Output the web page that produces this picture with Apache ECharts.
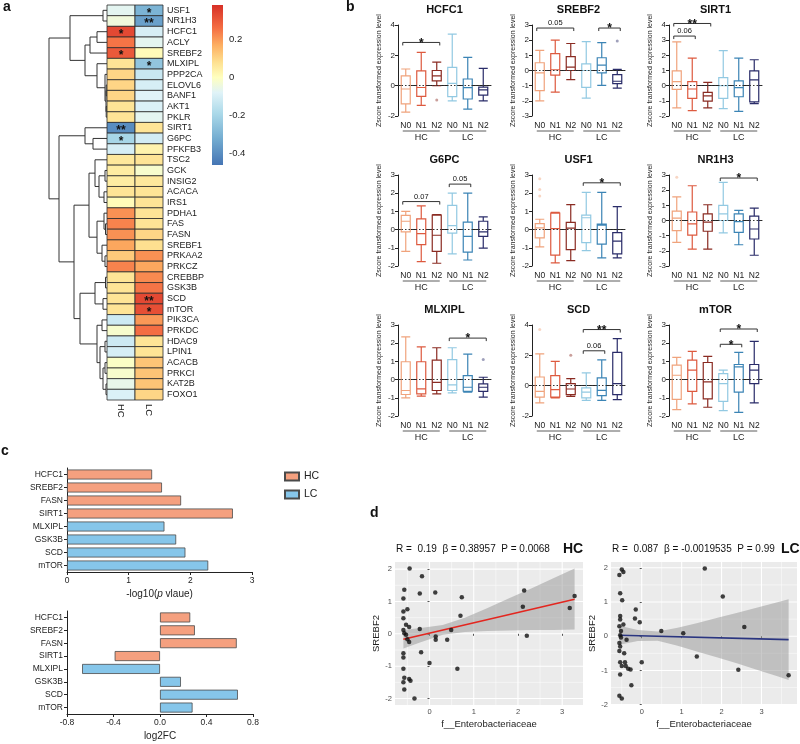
<!DOCTYPE html>
<html><head><meta charset="utf-8">
<script src="https://cdn.jsdelivr.net/npm/echarts@6/dist/echarts.min.js"></script>
<style>html,body{margin:0;padding:0;background:#fff}#c{width:800px;height:744px}</style>
</head><body><div id="c"></div>
<script>
const FONT = 'Arial, "Liberation Sans", sans-serif';

// ---------- Panel a : heatmap ----------
const genes = ['USF1','NR1H3','HCFC1','ACLY','SREBF2','MLXIPL','PPP2CA','ELOVL6','BANF1','AKT1','PKLR','SIRT1','G6PC','PFKFB3','TSC2','GCK','INSIG2','ACACA','IRS1','PDHA1','FAS','FASN','SREBF1','PRKAA2','PRKCZ','CREBBP','GSK3B','SCD','mTOR','PIK3CA','PRKDC','HDAC9','LPIN1','ACACB','PRKCI','KAT2B','FOXO1'];
const heatCols = ['HC','LC'];
const hcCorr = [-0.07,-0.04,0.33,0.25,0.30,0.07,0.10,0.10,0.10,0.07,0.07,-0.40,-0.20,-0.10,0.06,0.05,0.05,0.07,0.01,0.21,0.23,0.21,0.18,0.12,0.23,0.07,0.07,0.07,0.07,-0.12,-0.02,-0.12,-0.10,-0.01,-0.02,-0.06,-0.09];
const lcCorr = [-0.30,-0.35,-0.10,-0.07,0.01,-0.25,-0.13,-0.10,-0.08,-0.09,-0.07,0.07,-0.11,0.03,0.07,-0.02,0.06,0.07,0.07,0.07,0.07,0.10,0.08,0.21,0.18,0.22,0.25,0.33,0.32,0.20,0.26,0.07,0.07,0.13,0.13,0.13,0.10];
const hcStarGenes = ['HCFC1','SREBF2','SIRT1','G6PC'];
const hcStarMarks = ['*','*','**','*'];
const lcStarGenes = ['USF1','NR1H3','MLXIPL','SCD','mTOR'];
const lcStarMarks = ['*','**','*','**','*'];
const colorbarRange = [-0.46, 0.38];
const colorbarTicks = [0.2, 0, -0.2, -0.4];
// dendrogram: [height, left, right], leaves = row index
const dendroTree = [58,
  [37, [4,0,1],
       [22, [17,[10,2,3],4], [10, 5, [2, 6, [1,[0.8,7,8],[0.8,9,10]]]]]],
  [48, [22, 11, [14,12,13]],
       [33, [18, [12, 14, [8,[2,15,16],[3,17,18]]], [10,[3,19,[1.5,20,21]],[5,22,[2,23,24]]]],
            [27, [12,[1.5,25,26],[4,27,28]], [10,[5,29,30],[7,[2,31,32],[4,[2,33,34],[1,35,36]]]]]]]];

// ---------- Panel b : boxplots [min, Q1, median, Q3, max] ----------
const boxCats = ['N0','N1','N2','N0','N1','N2'];
const groupNames = ['HC','LC'];
const hcfc1Box = [[-1.75,-1.2,-0.22,0.65,1.1],[-1.3,-0.7,-0.12,0.97,2.2],[0.0,0.32,0.65,1.0,1.55],[-1.0,-0.72,0.15,1.2,3.4],[-1.55,-0.88,-0.13,0.44,1.87],[-1.0,-0.62,-0.28,-0.1,1.14]];
const hcfc1Out = [[2,-0.95]];
const hcfc1Sig = [[0,2,2.85]]; const hcfc1SigTxt = ['*'];
const srebf2Box = [[-2.0,-1.33,-0.16,0.51,1.33],[-1.42,-0.31,0.05,1.11,2.0],[-0.6,0.0,0.22,0.91,1.78],[-1.82,-1.11,0.0,0.44,1.91],[-0.98,-0.16,0.36,0.84,1.84],[-1.16,-0.87,-0.71,-0.27,0.07]];
const srebf2Out = [[5,1.95]];
const srebf2Sig = [[0,2,2.8],[4,5,2.8]]; const srebf2SigTxt = ['0.05','*'];
const sirt1Box = [[-1.47,-0.24,0.27,0.98,2.89],[-1.64,-0.84,-0.22,0.27,1.82],[-1.47,-1.02,-0.67,-0.44,0.22],[-1.51,-0.84,0.0,0.53,2.31],[-1.69,-0.73,-0.13,0.31,1.82],[-1.18,-1.07,0.38,0.98,1.71]];
const sirt1Out = [];
const sirt1Sig = [[0,2,4.1],[0,1,3.27]]; const sirt1SigTxt = ['**','0.06'];
const g6pcBox = [[-1.2,-0.13,0.46,0.78,1.0],[-1.76,-0.83,-0.22,0.59,1.3],[-1.85,-1.2,-0.31,0.8,0.83],[-1.33,-0.19,0.22,1.33,2.0],[-1.67,-1.24,-0.37,0.41,2.0],[-1.02,-0.37,-0.13,0.46,0.7]];
const g6pcOut = [];
const g6pcSig = [[0,2,1.54],[3,4,2.5]]; const g6pcSigTxt = ['0.07','0.05'];
const usf1Box = [[-0.95,-0.45,0.1,0.33,0.57],[-1.83,-1.4,0.05,0.9,0.95],[-1.7,-1.1,0.08,0.4,1.37],[-1.15,-0.72,0.65,0.8,2.05],[-1.55,-0.8,0.25,0.3,2.05],[-1.55,-1.33,-0.63,-0.17,1.26]];
const usf1Out = [[0,2.8],[0,2.2],[0,1.85]];
const usf1Sig = [[3,5,2.57]]; const usf1SigTxt = ['*'];
const nr1h3Box = [[-1.44,-0.67,0.16,0.62,1.56],[-1.89,-0.96,-0.22,0.56,2.29],[-1.89,-0.71,-0.11,0.44,1.04],[-0.82,0.0,0.44,1.0,2.51],[-1.6,-0.78,-0.07,0.44,0.67],[-2.29,-1.22,-0.56,0.29,0.82]];
const nr1h3Out = [[0,2.85]];
const nr1h3Sig = [[3,5,2.8]]; const nr1h3SigTxt = ['*'];
const mlxiplBox = [[-1.0,-0.82,-0.6,0.98,2.35],[-0.91,-0.78,-0.51,0.98,1.8],[-0.78,-0.6,-0.15,1.07,1.75],[-0.73,-0.6,-0.29,1.1,1.75],[-0.69,-0.64,-0.42,0.22,1.4],[-0.96,-0.65,-0.42,-0.24,0.13]];
const mlxiplOut = [[5,1.1]];
const mlxiplSig = [[3,5,2.28]]; const mlxiplSigTxt = ['*'];
const scdBox = [[-1.14,-0.75,-0.37,0.57,2.1],[-0.81,-0.75,-0.26,0.66,1.6],[-0.7,-0.59,-0.22,0.13,0.46],[-0.97,-0.81,-0.42,-0.15,0.84],[-0.97,-0.66,-0.31,0.51,1.7],[-0.92,-0.59,0.13,2.2,3.1]];
const scdOut = [[0,3.7],[2,2.0]];
const scdSig = [[3,5,3.7],[3,4,2.3]]; const scdSigTxt = ['**','0.06'];
const mtorBox = [[-1.65,-1.09,0.24,0.8,1.22],[-1.33,-0.65,0.52,1.07,1.55],[-1.52,-1.06,-0.13,0.94,1.28],[-1.7,-1.2,-0.22,0.33,0.52],[-1.8,-0.69,0.7,0.83,1.5],[-1.28,-0.22,0.52,0.83,2.1]];
const mtorOut = [];
const mtorSig = [[3,5,2.78],[3,4,1.94]]; const mtorSigTxt = ['*','*'];

// ---------- Panel c ----------
const cGenes = ['HCFC1','SREBF2','FASN','SIRT1','MLXIPL','GSK3B','SCD','mTOR'];
const cGroup = ['HC','HC','HC','HC','LC','LC','LC','LC'];
const negLog10P = [1.38,1.54,1.85,2.69,1.58,1.77,1.92,2.29];
const log2FC = [0.26,0.30,0.66,-0.39,-0.67,0.18,0.67,0.28];

// ---------- Panel d ----------
const hcX = [-0.45,-0.17,-0.57,-0.22,0.13,-0.59,0.73,2.14,2.11,3.28,3.17,-0.59,-0.50,-0.59,0.70,-0.53,-0.46,-0.22,-0.59,-0.57,-0.53,0.49,0.14,0.14,0.40,2.20,-0.50,-0.46,-0.59,-0.19,-0.59,0.00,0.63,-0.59,-0.57,-0.46,-0.43,-0.59,-0.57,-0.34];
const hcY = [2.02,1.78,1.36,1.25,1.28,1.09,1.13,1.34,0.84,1.17,0.80,0.69,0.76,0.48,0.56,0.28,0.21,0.15,0.12,0.02,-0.03,0.12,-0.08,-0.18,-0.18,-0.06,-0.17,-0.25,-0.60,-0.57,-0.73,-0.90,-1.08,-1.08,-1.36,-1.40,-1.45,-1.50,-1.72,-2.00];
const lcX = [-0.50,-0.46,-0.56,1.58,2.03,-0.54,-0.49,-0.15,-0.17,-0.05,-0.54,-0.54,-0.46,-0.56,-0.52,0.49,1.04,2.57,-0.54,-0.52,-0.38,-0.56,-0.54,-0.56,-0.44,1.38,-0.54,0.00,-0.42,-0.50,-0.40,-0.34,-0.28,2.42,-0.54,-0.26,3.68,-0.56,-0.50];
const lcY = [1.95,1.88,1.79,1.98,1.16,1.26,1.05,0.78,0.52,0.41,0.59,0.49,0.34,0.29,0.15,0.15,0.09,0.27,0.03,-0.04,-0.10,-0.20,-0.30,-0.43,-0.50,-0.59,-0.76,-0.76,-0.76,-0.87,-0.87,-0.95,-0.97,-0.98,-1.12,-1.43,-1.14,-1.74,-1.82];
const hcFitX = [-0.59, 3.28], hcFitY = [-0.17, 1.07];
const lcFitX = [-0.56, 3.68], lcFitY = [0.03, -0.10];
const hcBandX = [-0.59,-0.2,0.3,0.8,1.3,1.8,2.3,2.8,3.28];
const hcBandLo = [-0.45,-0.26,-0.03,0.06,0.09,0.10,0.12,0.12,0.13];
const hcBandHi = [0.12,0.18,0.27,0.50,0.79,1.10,1.40,1.72,2.02];
const lcBandX = [-0.56,-0.1,0.4,0.9,1.4,1.9,2.4,2.9,3.4,3.68];
const lcBandLo = [-0.25,-0.14,-0.13,-0.28,-0.45,-0.62,-0.80,-0.99,-1.17,-1.28];
const lcBandHi = [0.31,0.18,0.14,0.25,0.39,0.54,0.69,0.84,0.99,1.08];
const dXTicks = [0,1,2,3];
const dYTicks = [-2,-1,0,1,2];

// ---------- helpers ----------
const colorStops = [[-0.46,'#4575b4'],[-0.32,'#74add1'],[-0.19,'#abd9e9'],[-0.08,'#e0f3f8'],[0,'#ffffbf'],[0.08,'#fee090'],[0.17,'#fdae61'],[0.26,'#f46d43'],[0.38,'#d73027']];
function hex2rgb(h){return [parseInt(h.slice(1,3),16),parseInt(h.slice(3,5),16),parseInt(h.slice(5,7),16)];}
function colorFor(v){
  if (v <= colorStops[0][0]) return colorStops[0][1];
  for (let i=1;i<colorStops.length;i++){
    if (v <= colorStops[i][0]){
      const t=(v-colorStops[i-1][0])/(colorStops[i][0]-colorStops[i-1][0]);
      const a=hex2rgb(colorStops[i-1][1]), b=hex2rgb(colorStops[i][1]);
      return 'rgb('+a.map((x,k)=>Math.round(x+(b[k]-x)*t)).join(',')+')';
    }
  }
  return colorStops[colorStops.length-1][1];
}
const txt = (c)=>({fontFamily:FONT, color:c||'#222'});

const grid=[], xAxis=[], yAxis=[], series=[], title=[];

// ---------- Panel a build ----------
const dendroSegs=[];
function layoutTree(node){
  if (typeof node==='number') return {h:0,y:node+0.5};
  const A=layoutTree(node[1]), B=layoutTree(node[2]);
  dendroSegs.push([A.h,A.y,node[0],B.y,B.h]);
  return {h:node[0], y:(A.y+B.y)/2};
}
layoutTree(dendroTree);
grid.push({left:5, top:5, width:102, height:395});
xAxis.push({type:'value', gridIndex:0, min:0, max:102, inverse:true, show:false});
yAxis.push({type:'value', gridIndex:0, min:0, max:genes.length, inverse:true, show:false});
series.push({type:'custom', xAxisIndex:0, yAxisIndex:0, data:dendroSegs, encode:{x:[0,2,4], y:[1,3]}, silent:true,
  renderItem:(p,api)=>{
    const v=[0,1,2,3,4].map(i=>api.value(i));
    const pts=[api.coord([v[0],v[1]]),api.coord([v[2],v[1]]),api.coord([v[2],v[3]]),api.coord([v[4],v[3]])];
    return {type:'polyline', shape:{points:pts}, style:{stroke:'#333', lineWidth:1, fill:null}};
  }});

grid.push({left:107, top:5, width:56, height:395});
xAxis.push({type:'category', gridIndex:1, data:heatCols, axisLine:{show:false}, axisTick:{show:false},
  axisLabel:{rotate:-90, margin:4, fontSize:9.5, ...txt()}});
yAxis.push({type:'category', gridIndex:1, data:genes, inverse:true, position:'right', axisLine:{show:false}, axisTick:{show:false},
  axisLabel:{interval:0, margin:4, fontSize:9, ...txt('#1a1a1a')}});
const heatData=[], heatStars=[];
genes.forEach((g,i)=>{
  heatData.push([0,i,hcCorr[i]]); const hi=hcStarGenes.indexOf(g); heatStars.push(hi>=0?hcStarMarks[hi]:'');
  heatData.push([1,i,lcCorr[i]]); const li=lcStarGenes.indexOf(g); heatStars.push(li>=0?lcStarMarks[li]:'');
});
series.push({type:'custom', xAxisIndex:1, yAxisIndex:1, data:heatData, encode:{x:0,y:1}, silent:true,
  renderItem:(p,api)=>{
    const c=api.coord([api.value(0),api.value(1)]), s=api.size([1,1]);
    const ch=[{type:'rect', shape:{x:c[0]-s[0]/2,y:c[1]-s[1]/2,width:s[0],height:s[1]}, style:{fill:colorFor(api.value(2)), stroke:'#2b2b2b', lineWidth:0.8}}];
    const st=heatStars[p.dataIndex];
    if (st) ch.push({type:'text', style:{text:st, x:c[0], y:c[1]+3, align:'center', verticalAlign:'middle', font:'bold 12px Arial', fill:'#111'}});
    return {type:'group', children:ch};
  }});

grid.push({left:212, top:5, width:11, height:160});
xAxis.push({type:'value', gridIndex:2, min:0, max:1, show:false});
yAxis.push({type:'value', gridIndex:2, min:colorbarRange[0], max:colorbarRange[1], position:'right',
  axisLine:{show:false}, axisTick:{show:false}, splitLine:{show:false},
  axisLabel:{customValues:colorbarTicks, margin:6, fontSize:9.5, ...txt(), formatter:v=>v===0?'0':String(+v.toFixed(1))}});
series.push({type:'custom', xAxisIndex:2, yAxisIndex:2, data:[[0,colorbarRange[0]]], encode:{x:0,y:1}, silent:true,
  renderItem:(p,api)=>{
    const a=api.coord([0,colorbarRange[1]]), b=api.coord([1,colorbarRange[0]]);
    const span=colorbarRange[1]-colorbarRange[0];
    const stops=colorStops.map(s=>({offset:(colorbarRange[1]-s[0])/span, color:s[1]})).reverse();
    return {type:'rect', shape:{x:a[0],y:a[1],width:b[0]-a[0],height:b[1]-a[1]}, style:{fill:new echarts.graphic.LinearGradient(0,0,0,1,stops)}};
  }});

// ---------- Panel b build ----------
const panelsB = [
  {t:'HCFC1', box:hcfc1Box, out:hcfc1Out, sig:hcfc1Sig, st:hcfc1SigTxt, min:-2, max:4, step:2},
  {t:'SREBF2', box:srebf2Box, out:srebf2Out, sig:srebf2Sig, st:srebf2SigTxt, min:-3, max:3, step:1},
  {t:'SIRT1', box:sirt1Box, out:sirt1Out, sig:sirt1Sig, st:sirt1SigTxt, min:-2, max:4, step:1},
  {t:'G6PC', box:g6pcBox, out:g6pcOut, sig:g6pcSig, st:g6pcSigTxt, min:-2, max:3, step:1},
  {t:'USF1', box:usf1Box, out:usf1Out, sig:usf1Sig, st:usf1SigTxt, min:-2, max:3, step:1},
  {t:'NR1H3', box:nr1h3Box, out:nr1h3Out, sig:nr1h3Sig, st:nr1h3SigTxt, min:-3, max:3, step:1},
  {t:'MLXIPL', box:mlxiplBox, out:mlxiplOut, sig:mlxiplSig, st:mlxiplSigTxt, min:-2, max:3, step:1},
  {t:'SCD', box:scdBox, out:scdOut, sig:scdSig, st:scdSigTxt, min:-2, max:4, step:2},
  {t:'mTOR', box:mtorBox, out:mtorOut, sig:mtorSig, st:mtorSigTxt, min:-2, max:3, step:1}
];
const boxColors = ['#f0a37c','#dd5a3f','#8a2b22','#92c9e2','#3b84b5','#2a2c69'];
const colLeft=[398,532,669], rowTop=[25,175,325], bW=93, bH=91;
panelsB.forEach((P,k)=>{
  const r=Math.floor(k/3), c=k%3, gi=grid.length;
  grid.push({left:colLeft[c], top:rowTop[r], width:bW, height:bH});
  xAxis.push({type:'category', gridIndex:gi, data:boxCats, axisLine:{lineStyle:{color:'#222',width:1}}, axisTick:{show:false},
    axisLabel:{interval:0, margin:5, fontSize:8.5, ...txt()}});
  yAxis.push({type:'value', gridIndex:gi, min:P.min, max:P.max, interval:P.step, splitLine:{show:false},
    axisLine:{show:true, lineStyle:{color:'#222',width:1}}, axisTick:{show:true, length:3, lineStyle:{color:'#222'}},
    axisLabel:{margin:3, fontSize:8, ...txt()},
    name:'Zscore transformed expression level', nameLocation:'middle', nameGap:15, nameTextStyle:{fontSize:7, ...txt()}});
  title.push({text:P.t, left:colLeft[c]+bW/2, top:rowTop[r]-21, textAlign:'center', padding:0, textStyle:{fontSize:11, fontWeight:'bold', ...txt('#111')}});
  series.push({type:'boxplot', xAxisIndex:gi, yAxisIndex:gi, boxWidth:[9,9], silent:true,
    data:P.box.map((b,i)=>({value:b, itemStyle:{color:'#fff', borderColor:boxColors[i], borderWidth:1.2}})),
    markLine:{silent:true, symbol:['none','none'], label:{show:false}, lineStyle:{type:[1.5,2], color:'#333', width:1}, data:[{yAxis:0}]}});
  if (P.out.length) series.push({type:'scatter', xAxisIndex:gi, yAxisIndex:gi, symbolSize:3, silent:true,
    data:P.out.map(o=>({value:o, itemStyle:{color:boxColors[o[0]], opacity:0.45}}))});
  series.push({type:'custom', xAxisIndex:gi, yAxisIndex:gi, data:P.sig, encode:{x:[0,1],y:2}, silent:true, z:5,
    renderItem:(p,api)=>{
      const a=api.coord([api.value(0),api.value(2)]), b=api.coord([api.value(1),api.value(2)]);
      const x1=a[0]-3, x2=b[0]+3, y=a[1], s=P.st[p.dataIndex], star=s.indexOf('*')>=0;
      return {type:'group', children:[
        {type:'polyline', shape:{points:[[x1,y+3],[x1,y],[x2,y],[x2,y+3]]}, style:{stroke:'#333', lineWidth:1, fill:null}},
        {type:'text', style:{text:s, x:(x1+x2)/2, y:star?y+1:y-1, align:'center', verticalAlign:star?'middle':'bottom',
          font:star?'bold 12px Arial':'7.5px Arial', fill:'#111'}}
      ]};
    }});
  series.push({type:'custom', xAxisIndex:gi, yAxisIndex:gi, data:[[0,2],[3,5]], encode:{x:[0,1]}, silent:true,
    renderItem:(p,api)=>{
      const a=api.coord([api.value(0),P.min]), b=api.coord([api.value(1),P.min]);
      const y=a[1]+15;
      return {type:'group', children:[
        {type:'line', shape:{x1:a[0]-3,y1:y,x2:b[0]+3,y2:y}, style:{stroke:'#333', lineWidth:0.8}},
        {type:'text', style:{text:groupNames[p.dataIndex], x:(a[0]+b[0])/2, y:y+2, align:'center', verticalAlign:'top', font:'9px Arial', fill:'#222'}}
      ]};
    }});
});

// ---------- Panel c build ----------
const cColors = {HC:'#f5a07f', LC:'#86c6ea'};
function addBar(gi, vals){
  ['HC','LC'].forEach(g=>{
    series.push({type:'bar', name:g, xAxisIndex:gi, yAxisIndex:gi, barWidth:10, barGap:'-100%', silent:true,
      itemStyle:{color:cColors[g], borderColor:'#4a4a4a', borderWidth:0.8},
      data:vals.map((v,i)=>cGroup[i]===g?v:'-')});
  });
}
let gi=grid.length;
grid.push({left:67, top:468, width:185, height:104});
xAxis.push({type:'value', gridIndex:gi, min:0, max:3, interval:1, splitLine:{show:false},
  axisLine:{show:true, lineStyle:{color:'#222'}}, axisTick:{show:true, length:3, lineStyle:{color:'#222'}},
  axisLabel:{margin:4, fontSize:8.5, ...txt()},
  name:'-log10({i|p} vlaue)', nameLocation:'middle', nameGap:17,
  nameTextStyle:{fontSize:10, ...txt(), rich:{i:{fontStyle:'italic', fontSize:10, fontFamily:FONT, color:'#222'}}}});
yAxis.push({type:'category', gridIndex:gi, data:cGenes, inverse:true, axisLine:{lineStyle:{color:'#222'}},
  axisTick:{show:true, length:3, alignWithLabel:true, lineStyle:{color:'#222'}}, axisLabel:{interval:0, margin:4, fontSize:8.5, ...txt()}});
addBar(gi, negLog10P);
gi=grid.length;
grid.push({left:67, top:611, width:186, height:103});
xAxis.push({type:'value', gridIndex:gi, min:-0.8, max:0.8, interval:0.4, splitLine:{show:false},
  axisLine:{show:true, onZero:false, lineStyle:{color:'#222'}}, axisTick:{show:true, length:3, lineStyle:{color:'#222'}},
  axisLabel:{margin:4, fontSize:8.5, ...txt(), formatter:v=>v.toFixed(1)},
  name:'log2FC', nameLocation:'middle', nameGap:17, nameTextStyle:{fontSize:10, ...txt()}});
yAxis.push({type:'category', gridIndex:gi, data:cGenes, inverse:true, axisLine:{onZero:false, lineStyle:{color:'#222'}},
  axisTick:{show:true, length:3, alignWithLabel:true, lineStyle:{color:'#222'}}, axisLabel:{interval:0, margin:4, fontSize:8.5, ...txt()}});
addBar(gi, log2FC);

// ---------- Panel d build ----------
function addScatter(left, width, xr, yr, xs, ys, fx, fy, bx, blo, bhi, lineColor, xMinor, yMinor){
  const g=grid.length;
  grid.push({left:left, top:562, width:width, height:143, show:true, backgroundColor:'#ebebeb', borderWidth:0});
  xAxis.push({type:'value', gridIndex:g, min:xr[0], max:xr[1], axisLine:{show:false}, splitLine:{show:false},
    axisTick:{show:true, customValues:dXTicks, length:2, lineStyle:{color:'#555'}},
    axisLabel:{customValues:dXTicks, margin:3, fontSize:7.5, ...txt('#4d4d4d')},
    name:'f__Enterobacteriaceae', nameLocation:'middle', nameGap:14, nameTextStyle:{fontSize:9.5, ...txt('#222')}});
  yAxis.push({type:'value', gridIndex:g, min:yr[0], max:yr[1], axisLine:{show:false}, splitLine:{show:false},
    axisTick:{show:true, customValues:dYTicks, length:2, lineStyle:{color:'#555'}},
    axisLabel:{customValues:dYTicks, margin:3, fontSize:7.5, ...txt('#4d4d4d')},
    name:'SREBF2', nameLocation:'middle', nameGap:14, nameTextStyle:{fontSize:9.5, ...txt('#222')}});
  series.push({type:'custom', xAxisIndex:g, yAxisIndex:g, data:[[xr[0],yr[0]]], encode:{x:0,y:1}, silent:true, z:0,
    renderItem:(p,api)=>{
      const cs=p.coordSys, ch=[];
      const vline=(v,w)=>{const x=api.coord([v,yr[0]])[0]; ch.push({type:'line', shape:{x1:x,y1:cs.y,x2:x,y2:cs.y+cs.height}, style:{stroke:'#fff', lineWidth:w}});};
      const hline=(v,w)=>{const y=api.coord([xr[0],v])[1]; ch.push({type:'line', shape:{x1:cs.x,y1:y,x2:cs.x+cs.width,y2:y}, style:{stroke:'#fff', lineWidth:w}});};
      xMinor.forEach(v=>vline(v,0.5)); yMinor.forEach(v=>hline(v,0.5));
      dXTicks.forEach(v=>vline(v,1.1)); dYTicks.forEach(v=>hline(v,1.1));
      return {type:'group', children:ch};
    }});
  series.push({type:'custom', xAxisIndex:g, yAxisIndex:g, data:[[bx[0],blo[0]]], encode:{x:0,y:1}, silent:true, z:1,
    renderItem:(p,api)=>{
      const pts=bx.map((x,i)=>api.coord([x,bhi[i]])).concat(bx.map((x,i)=>api.coord([x,blo[i]])).reverse());
      return {type:'polygon', shape:{points:pts}, style:{fill:'rgba(150,150,150,0.5)'}};
    }});
  series.push({type:'line', xAxisIndex:g, yAxisIndex:g, data:fx.map((x,i)=>[x,fy[i]]), symbol:'none', silent:true, z:2,
    lineStyle:{color:lineColor, width:1.6}});
  series.push({type:'scatter', xAxisIndex:g, yAxisIndex:g, data:xs.map((x,i)=>[x,ys[i]]), symbolSize:4.5, silent:true, z:3,
    itemStyle:{color:'#111'}});
}
addScatter(395, 188, [-0.78,3.47], [-2.2,2.22], hcX, hcY, hcFitX, hcFitY, hcBandX, hcBandLo, hcBandHi, '#e3261f', [-0.5,0.5,1.5,2.5], [-1.5,-0.5,0.5,1.5]);
addScatter(611, 186, [-0.77,3.89], [-2.01,2.17], lcX, lcY, lcFitX, lcFitY, lcBandX, lcBandLo, lcBandHi, '#2a3580', [-0.5,0.5,1.5,2.5,3.5], [-1.5,-0.5,0.5,1.5]);

// ---------- titles / labels ----------
title.push({text:'a', left:3, top:0, padding:0, textStyle:{fontSize:14, fontWeight:'bold', ...txt('#111')}});
title.push({text:'b', left:346, top:0, padding:0, textStyle:{fontSize:14, fontWeight:'bold', ...txt('#111')}});
title.push({text:'c', left:1, top:444, padding:0, textStyle:{fontSize:14, fontWeight:'bold', ...txt('#111')}});
title.push({text:'d', left:370, top:506, padding:0, textStyle:{fontSize:14, fontWeight:'bold', ...txt('#111')}});
title.push({text:'R =  0.19  \u03b2 = 0.38957  P = 0.0068', left:396, top:544, padding:0, textStyle:{fontSize:10, fontWeight:'normal', ...txt('#111')}});
title.push({text:'HC', left:563, top:542, padding:0, textStyle:{fontSize:14, fontWeight:'bold', ...txt('#111')}});
title.push({text:'R =  0.087  \u03b2 = -0.0019535  P = 0.99', left:612, top:544, padding:0, textStyle:{fontSize:10, fontWeight:'normal', ...txt('#111')}});
title.push({text:'LC', left:781, top:542, padding:0, textStyle:{fontSize:14, fontWeight:'bold', ...txt('#111')}});

const option = {
  animation:false, backgroundColor:'#fff', textStyle:{fontFamily:FONT},
  title, grid, xAxis, yAxis, series,
  legend:{data:['HC','LC'], left:279, top:466, orient:'vertical', icon:'rect', itemWidth:14, itemHeight:8, itemGap:7,
    selectedMode:false, textStyle:{fontSize:10.5, ...txt()}}
};
const chart = echarts.init(document.getElementById('c'));
chart.setOption(option);
</script></body></html>
